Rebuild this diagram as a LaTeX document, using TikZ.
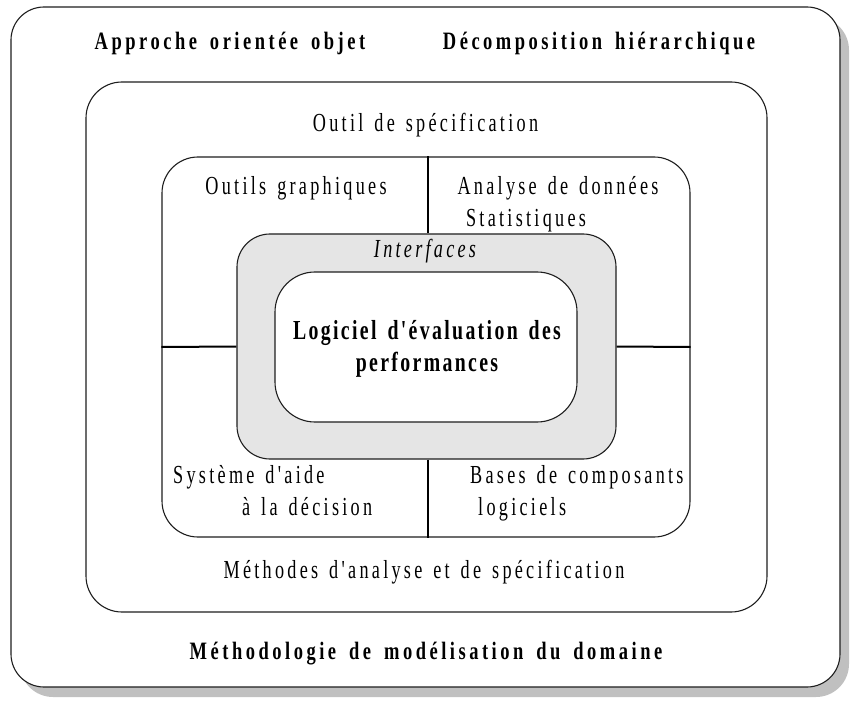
\documentclass[tikz,border=0pt]{standalone}
\usepackage{fontspec}
\usetikzlibrary{shadows}
% condensed, tracked Times-like faces with wide word gaps
\newfontfamily\lblfont[Ligatures=TeXOff,FakeStretch=0.70,LetterSpace=12.6,WordSpace=1.4]{Liberation Serif}
\newfontfamily\ttlfont[Ligatures=TeXOff,FakeStretch=0.74,LetterSpace=14,WordSpace=1.6]{Liberation Serif Bold}
\newfontfamily\corefont[Ligatures=TeXOff,FakeStretch=0.72,LetterSpace=8.5,WordSpace=1.5]{Liberation Serif Bold}
\newfontfamily\itlfont[Ligatures=TeXOff,FakeStretch=0.70,LetterSpace=12.5,WordSpace=1.4]{Liberation Serif Italic}
\definecolor{shadowgray}{RGB}{192,192,192}
\definecolor{ifacegray}{RGB}{229,229,229}
\definecolor{edge}{RGB}{30,30,30}
\begin{document}
\begin{tikzpicture}[x=1pt,y=-1pt,
  frame/.style={draw=edge, line width=1.1pt, fill=white, inner sep=0pt},
  divider/.style={draw=black, line width=2pt},
  lbl/.style={inner sep=0pt, anchor=base, font=\lblfont\fontsize{26}{32}\selectfont},
  ttl/.style={inner sep=0pt, anchor=base, font=\ttlfont\fontsize{25}{32}\selectfont},
  core/.style={inner sep=0pt, anchor=base, font=\corefont\fontsize{27.5}{32}\selectfont},
  itl/.style={inner sep=0pt, anchor=base, font=\itlfont\fontsize{26}{32}\selectfont}]
\useasboundingbox (0,0) rectangle (851,703);

% nested rounded frames
\node[frame, rounded corners=33pt, minimum width=829pt, minimum height=680pt,
  drop shadow={shadow xshift=9pt, shadow yshift=-10pt, fill=shadowgray, opacity=1}]
  (outer) at (425.5,347) {};
\node[frame, rounded corners=36pt, minimum width=681pt, minimum height=530pt]
  (spec) at (426.5,347) {};
\node[frame, rounded corners=36pt, minimum width=528pt, minimum height=380pt]
  (tools) at (426,347) {};
\node[frame, fill=ifacegray, rounded corners=33pt, minimum width=379pt, minimum height=225pt]
  (iface) at (426.5,346.5) {};
\node[frame, rounded corners=40pt, minimum width=302pt, minimum height=150pt]
  (core) at (426,347) {};

% quadrant dividers
\coordinate (vx) at (427.5,347);
\draw[divider] (vx |- tools.north) -- (vx |- iface.north);
\draw[divider] (vx |- iface.south) -- (vx |- tools.south);
\draw[divider] (tools.west) -- (iface.west);
\draw[divider] (iface.east) -- (tools.east);

% labels
\node[ttl] (oo)    at (230,50)  {Approche orientée objet};
\node[ttl] (hier)  at (599,50)  {Décomposition hiérarchique};
\node[lbl] (tool)  at (425.5,132) {Outil de spécification};
\node[lbl] (graph) at (296,195) {Outils graphiques};
\node[lbl] (stat)  at (558,195) {Analyse de données};
\node[lbl] (stat2) at (526,227) {Statistiques};
\node[itl] (ifl)   at (425,258) {Interfaces};
\node[core] (log1) at (427,339) {Logiciel d'évaluation des};
\node[core] (log2) at (427,371) {performances};
\node[lbl, anchor=base west] (dss1) at (173,483) {Système d'aide};
\node[lbl, anchor=base west] (dss2) at (242,515) {à la décision};
\node[lbl, anchor=base west] (comp1) at (470,483) {Bases de composants};
\node[lbl, anchor=base west] (comp2) at (478,515) {logiciels};
\node[lbl] (meth)  at (424,578) {Méthodes d'analyse et de spécification};
\node[ttl] (dom)   at (426,659) {Méthodologie de modélisation du domaine};
\end{tikzpicture}
\end{document}
